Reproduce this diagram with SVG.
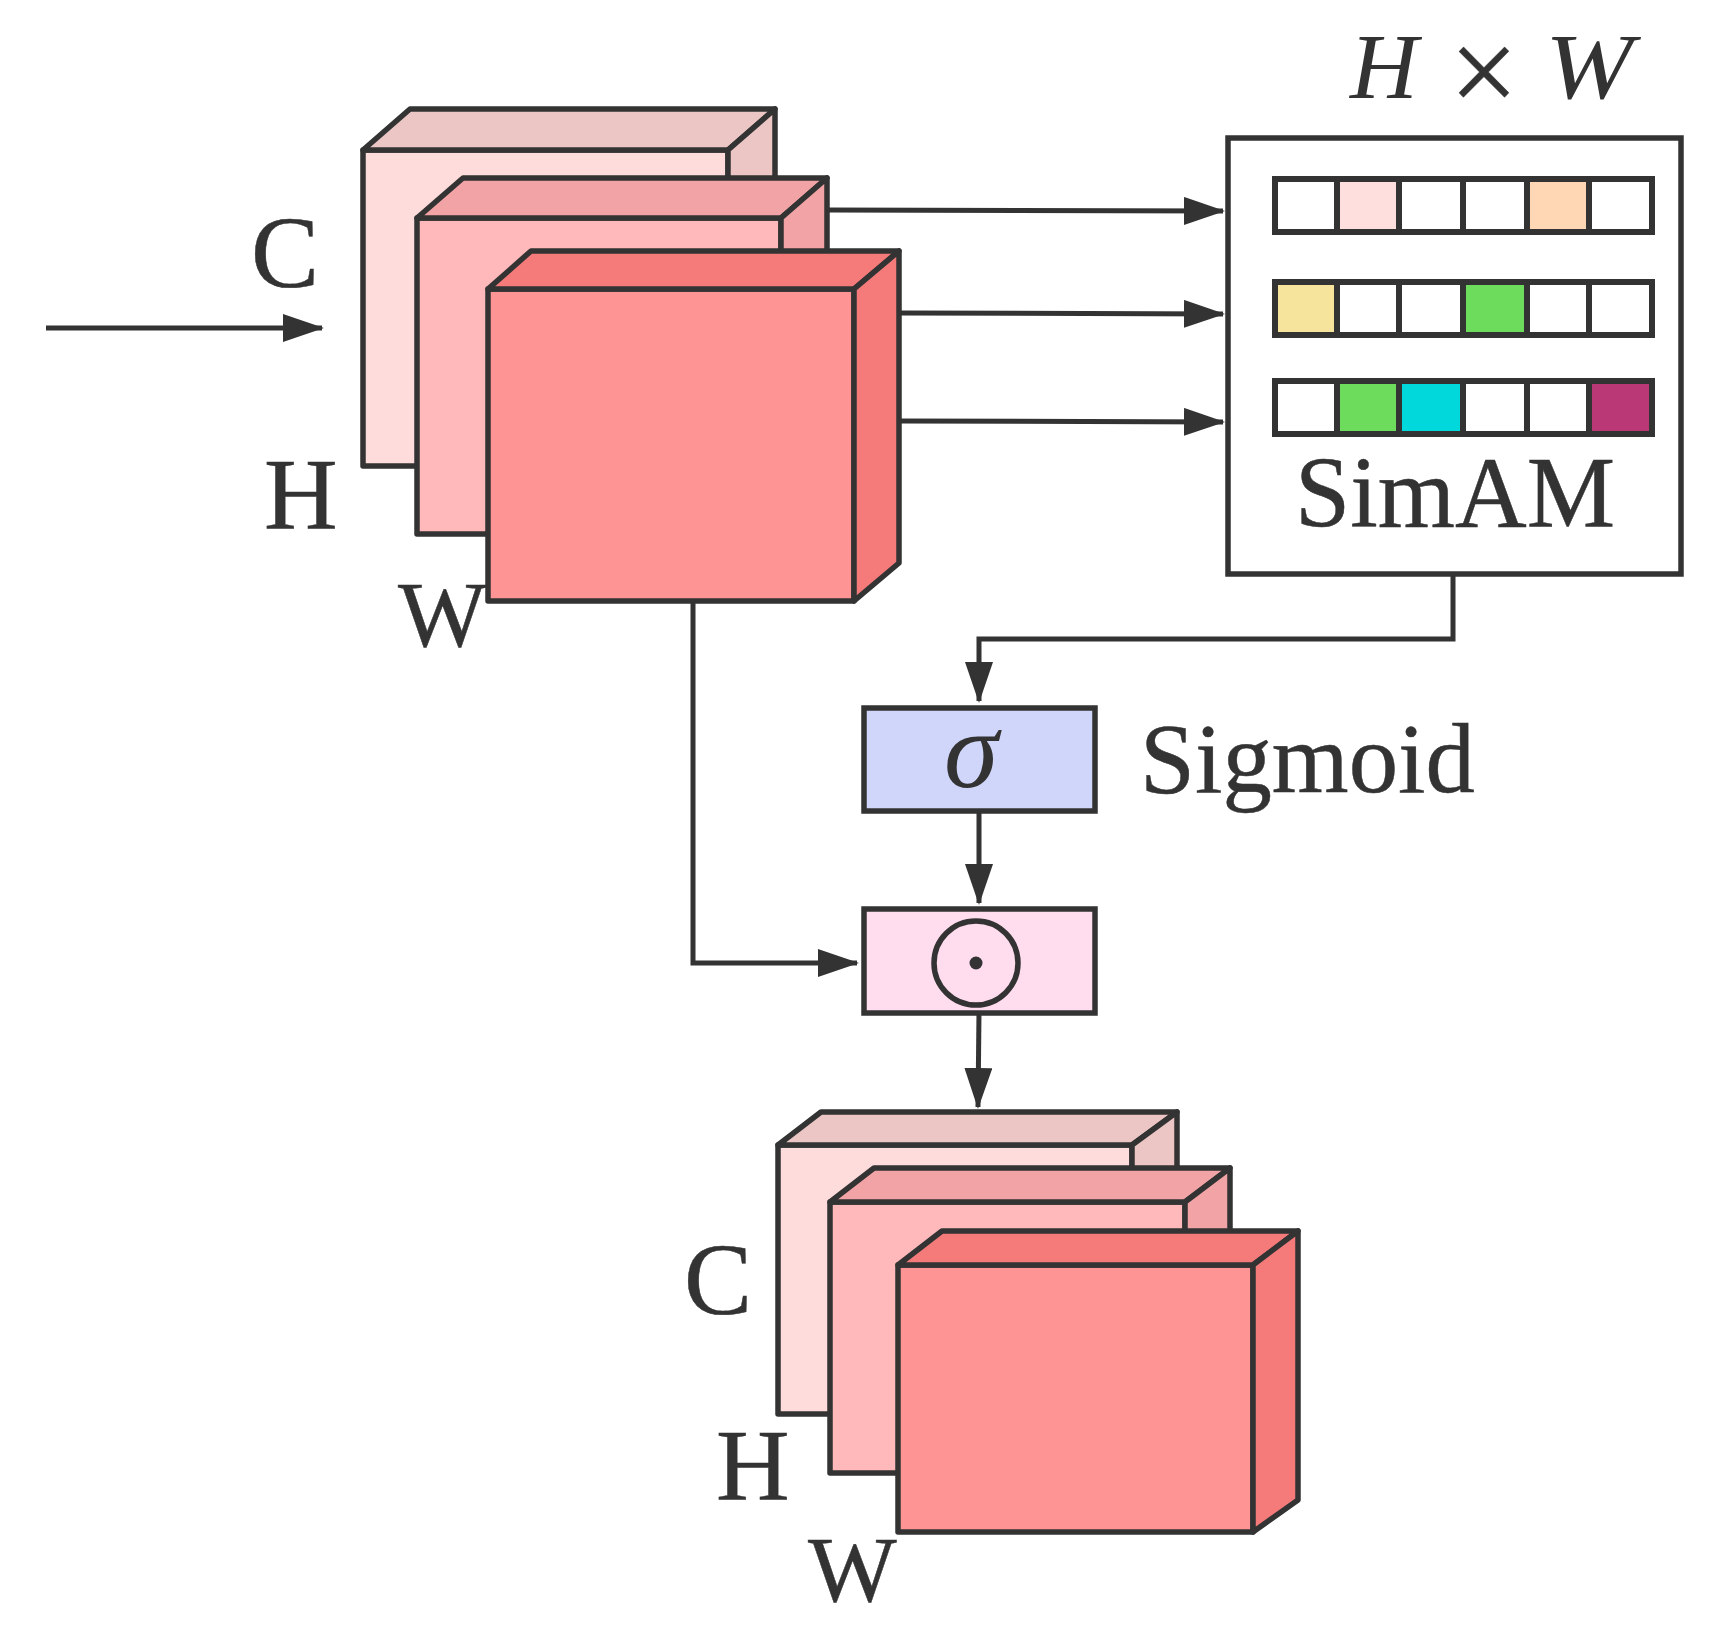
<svg xmlns="http://www.w3.org/2000/svg" width="1709" height="1638" viewBox="0 0 1709 1638">
<style>
.s{stroke:#333;stroke-width:5.5;stroke-linejoin:round}
.c{fill:none;stroke:#333;stroke-width:5}
.t{font-family:"Liberation Serif","Times New Roman",serif;fill:#333;stroke:#333;stroke-width:.5}
.i{font-style:italic;stroke-width:0}
.a1{fill:#ffdcdc}.b1{fill:#ecc5c5}
.a2{fill:#ffb9bb}.b2{fill:#f2a3a5}
.a3{fill:#ff9494}.b3{fill:#f57b7b}
.cell{stroke:#333;stroke-width:6;fill:#fff}
</style>
<defs>
<marker id="arr" markerUnits="userSpaceOnUse" markerWidth="42" markerHeight="28" refX="39" refY="14" orient="auto"><path d="M0 0L41 14L0 28z" fill="#333"/></marker>
</defs>
<rect width="1709" height="1638" fill="#fff"/>
<g id="connectors">
<path class="c" d="M46 328H322" marker-end="url(#arr)"/>
<path class="c" d="M829 210L1223 211" marker-end="url(#arr)"/>
<path class="c" d="M900 313L1223 314" marker-end="url(#arr)"/>
<path class="c" d="M900 421L1223 422" marker-end="url(#arr)"/>
<path class="c" d="M1453 574V639H979V701" marker-end="url(#arr)"/>
<path class="c" d="M979 812V903" marker-end="url(#arr)"/>
<path class="c" d="M693 601V963H857" marker-end="url(#arr)"/>
<path class="c" d="M979 1012L978 1107" marker-end="url(#arr)"/>
</g>
<g id="stack-in-1">
<rect class="s a1" x="363" y="150" width="365" height="316"/>
<path class="s b1" d="M363 150L410 109H775L728 150z"/>
<path class="s b1" d="M728 150L775 109V420H728z"/>
</g>
<g id="stack-in-2">
<rect class="s a2" x="417" y="218" width="364" height="316"/>
<path class="s b2" d="M417 218L463 178H827L781 218z"/>
<path class="s b2" d="M781 218L827 178V490L781 534z"/>
</g>
<g id="stack-in-3">
<rect class="s a3" x="488" y="289" width="366" height="312"/>
<path class="s b3" d="M488 289L531 251H899L854 289z"/>
<path class="s b3" d="M854 289L899 251V563L854 601z"/>
</g>
<g id="simam">
<rect x="1228" y="138" width="453" height="436" fill="#fff" stroke="#333" stroke-width="5.5"/>
<g id="row1">
<rect class="cell" x="1275" y="179" width="62" height="53"/>
<rect class="cell" x="1337" y="179" width="62" height="53" style="fill:#ffdede"/>
<rect class="cell" x="1399" y="179" width="64" height="53"/>
<rect class="cell" x="1463" y="179" width="64" height="53"/>
<rect class="cell" x="1527" y="179" width="62" height="53" style="fill:#ffd7b5"/>
<rect class="cell" x="1589" y="179" width="63" height="53"/>
</g>
<g id="row2">
<rect class="cell" x="1275" y="282" width="62" height="53" style="fill:#f7e49c"/>
<rect class="cell" x="1337" y="282" width="62" height="53"/>
<rect class="cell" x="1399" y="282" width="64" height="53"/>
<rect class="cell" x="1463" y="282" width="64" height="53" style="fill:#6ddc5c"/>
<rect class="cell" x="1527" y="282" width="62" height="53"/>
<rect class="cell" x="1589" y="282" width="63" height="53"/>
</g>
<g id="row3">
<rect class="cell" x="1275" y="381" width="62" height="53"/>
<rect class="cell" x="1337" y="381" width="62" height="53" style="fill:#6ddc5c"/>
<rect class="cell" x="1399" y="381" width="64" height="53" style="fill:#00d8dc"/>
<rect class="cell" x="1463" y="381" width="64" height="53"/>
<rect class="cell" x="1527" y="381" width="62" height="53"/>
<rect class="cell" x="1589" y="381" width="63" height="53" style="fill:#bb3877"/>
</g>
<text class="t" x="1295" y="527" font-size="101" textLength="320" lengthAdjust="spacingAndGlyphs">SimAM</text>
</g>
<g id="hw">
<text class="t i" x="1350" y="98" font-size="94">H</text>
<text class="t" x="1484" y="113" font-size="122" text-anchor="middle">×</text>
<text class="t i" x="1545" y="98" font-size="94" textLength="88" lengthAdjust="spacingAndGlyphs">W</text>
</g>
<g id="sigmoid">
<rect x="864" y="708" width="231" height="103" fill="#d0d6fa" stroke="#333" stroke-width="5.5"/>
<text class="t i" x="944" y="787" font-size="110">σ</text>
</g>
<text id="sigmoid-label" class="t" x="1140" y="792" font-size="100" textLength="335" lengthAdjust="spacingAndGlyphs">Sigmoid</text>
<g id="multiply">
<rect x="864" y="909" width="231" height="104" fill="#ffdcee" stroke="#333" stroke-width="5.5"/>
<circle cx="976" cy="963" r="42" fill="none" stroke="#333" stroke-width="5.5"/>
<circle cx="976" cy="963" r="6.5" fill="#333"/>
</g>
<g id="stack-out-1">
<rect class="s a1" x="778" y="1145" width="354" height="269"/>
<path class="s b1" d="M778 1145L821 1112H1177L1132 1145z"/>
<path class="s b1" d="M1132 1145L1177 1112V1400H1132z"/>
</g>
<g id="stack-out-2">
<rect class="s a2" x="830" y="1202" width="355" height="271"/>
<path class="s b2" d="M830 1202L874 1168H1230L1185 1202z"/>
<path class="s b2" d="M1185 1202L1230 1168V1440L1185 1473z"/>
</g>
<g id="stack-out-3">
<rect class="s a3" x="898" y="1265" width="355" height="267"/>
<path class="s b3" d="M898 1265L942 1231H1298L1253 1265z"/>
<path class="s b3" d="M1253 1265L1298 1231V1500L1253 1532z"/>
</g>
<g id="labels" class="t" font-size="102">
<text x="251" y="287">C</text>
<text x="264" y="529">H</text>
<text x="398" y="646" font-size="94">W</text>
<text x="684" y="1314">C</text>
<text x="716" y="1500">H</text>
<text x="808" y="1601" font-size="94">W</text>
</g>
</svg>
